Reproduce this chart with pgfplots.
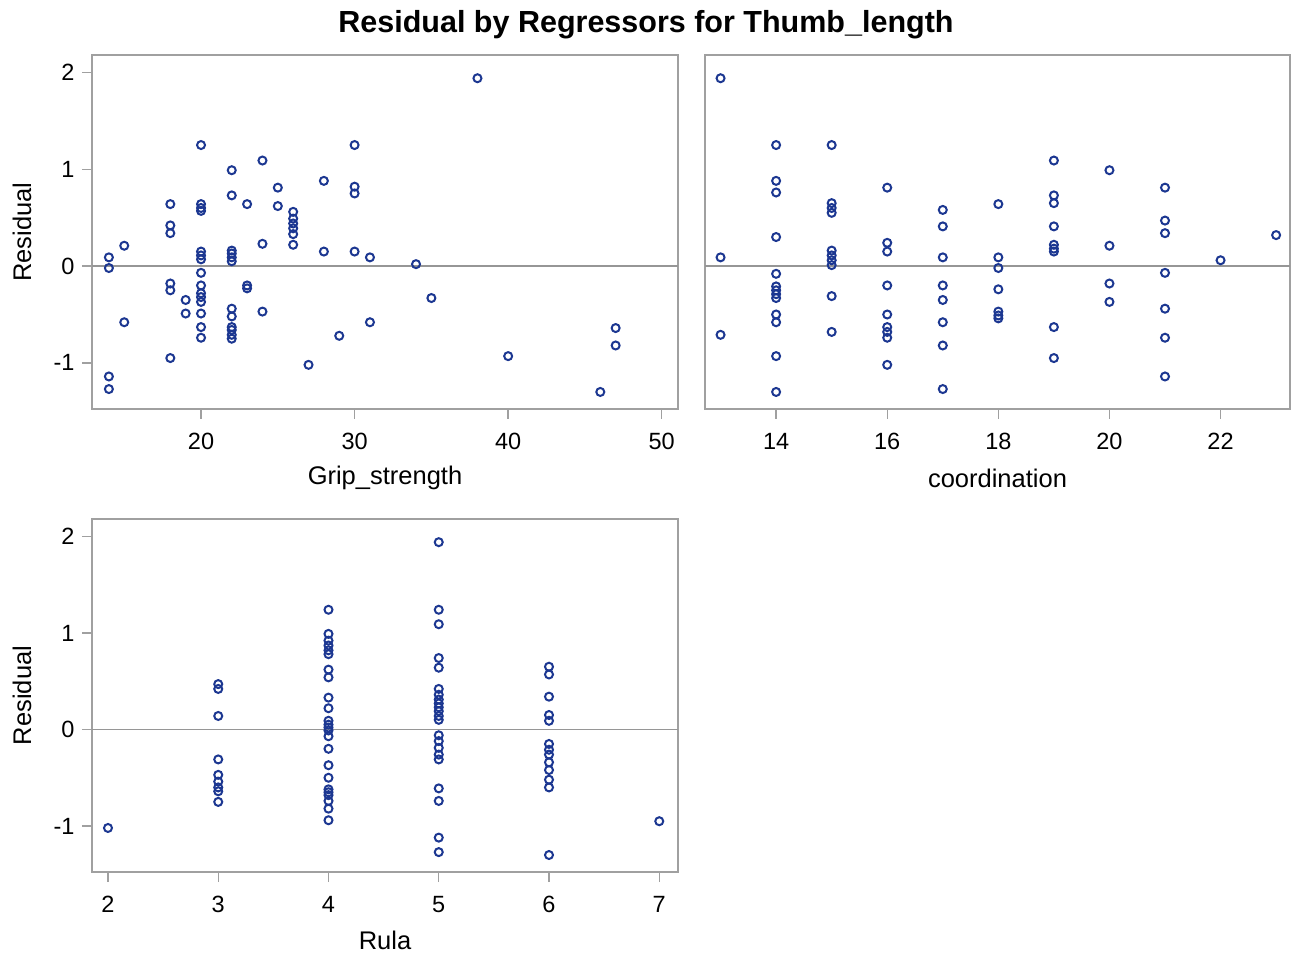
\documentclass[border=0pt]{standalone}
\usepackage{pgfplots}
\pgfplotsset{compat=1.18}
\usepackage{fontspec}
\setmainfont{Liberation Sans}

\definecolor{framegray}{RGB}{160,160,160}
\definecolor{refgray}{RGB}{150,150,150}
\definecolor{markblue}{RGB}{28,55,145}

\pgfplotsset{
  resid/.style={
    scale only axis, anchor=south west,
    axis line style={framegray, line width=1.4pt},
    tick style={framegray, line width=1.4pt},
    tick align=outside, major tick length=10pt,
    xtick pos=lower, ytick pos=lower,
    ymin=-1.476, ymax=2.18, ytick={-1,0,1,2},
    ticklabel style={font=\fontsize{23.5}{25}\selectfont},
    /pgf/number format/assume math mode=true,
    label style={font=\fontsize{25.5}{27}\selectfont},
    yticklabel style={xshift=-4pt},
    xticklabel style={yshift=-11pt},
  },
  pts/.style={only marks, mark=o, mark size=4pt,
    mark options={markblue, line width=2pt}},
}

\begin{document}
\begin{tikzpicture}
\useasboundingbox (0,0) rectangle (1291pt,954pt);

\node[font=\bfseries\fontsize{30.5}{34}\selectfont] at (646pt,929pt)
  {Residual by Regressors for Thumb\_length};

% Grip_strength
\begin{axis}[resid, at={(92pt,545pt)}, width=586pt, height=354pt,
  xmin=12.9, xmax=51.06, xtick={20,30,40,50},
  xlabel={Grip\_strength}, ylabel={Residual},
  xlabel style={at={(axis description cs:0.5,-0.195)}, anchor=center},
  ylabel style={at={(axis description cs:-0.1195,0.5)}, anchor=center}]
\addplot[refgray, line width=1.4pt] coordinates {(12.9,0) (51.06,0)};
\addplot[pts] coordinates {
(20,1.25)(24,1.09)(22,0.99)(25,0.81)(28,0.88)(30,1.25)(30,0.82)(30,0.75)
(18,0.64)(20,0.64)(20,0.60)(20,0.57)(22,0.73)(23,0.64)(25,0.62)
(26,0.56)(26,0.49)(26,0.44)(26,0.39)(26,0.33)(26,0.22)
(18,0.42)(18,0.34)(15,0.21)(14,0.09)(14,-0.02)
(20,0.15)(20,0.11)(20,0.07)(22,0.16)(22,0.13)(22,0.09)(22,0.05)
(24,0.23)(28,0.15)(30,0.15)(31,0.09)(20,-0.07)(18,-0.18)(18,-0.25)
(20,-0.20)(20,-0.28)(20,-0.32)(20,-0.37)(23,-0.20)(23,-0.23)
(19,-0.35)(19,-0.49)(20,-0.49)(20,-0.63)(20,-0.74)
(22,-0.44)(22,-0.52)(22,-0.63)(22,-0.66)(22,-0.71)(22,-0.75)
(24,-0.47)(15,-0.58)(31,-0.58)(29,-0.72)(18,-0.95)(27,-1.02)
(14,-1.14)(14,-1.27)(38,1.94)(34,0.02)(35,-0.33)(47,-0.64)(47,-0.82)
(40,-0.93)(46,-1.30)
};
\end{axis}

% coordination
\begin{axis}[resid, at={(705pt,545pt)}, width=585pt, height=354pt,
  xmin=12.72, xmax=23.25, xtick={14,16,18,20,22}, ytick=\empty,
  xlabel={coordination},
  xlabel style={at={(axis description cs:0.5,-0.195)}, anchor=center}]
\addplot[refgray, line width=1.4pt] coordinates {(12.72,0) (23.25,0)};
\addplot[pts] coordinates {
(13,1.94)(13,0.09)(13,-0.71)
(14,1.25)(14,0.88)(14,0.76)(14,0.30)(14,-0.08)(14,-0.21)(14,-0.25)(14,-0.29)
(14,-0.33)(14,-0.50)(14,-0.58)(14,-0.93)(14,-1.30)
(15,1.25)(15,0.65)(15,0.60)(15,0.55)(15,0.16)(15,0.11)(15,0.06)(15,0.01)
(15,-0.31)(15,-0.68)
(16,0.81)(16,0.24)(16,0.15)(16,-0.20)(16,-0.50)(16,-0.63)(16,-0.68)(16,-0.74)
(16,-1.02)
(17,0.58)(17,0.41)(17,0.09)(17,-0.20)(17,-0.35)(17,-0.58)(17,-0.82)(17,-1.27)
(18,0.64)(18,0.09)(18,-0.02)(18,-0.24)(18,-0.47)(18,-0.51)(18,-0.54)
(19,1.09)(19,0.73)(19,0.65)(19,0.41)(19,0.22)(19,0.18)(19,0.15)(19,-0.63)
(19,-0.95)
(20,0.99)(20,0.21)(20,-0.18)(20,-0.37)
(21,0.81)(21,0.47)(21,0.34)(21,-0.07)(21,-0.44)(21,-0.74)(21,-1.14)
(22,0.06)(23,0.32)
};
\end{axis}

% Rula
\begin{axis}[resid, at={(92pt,82pt)}, width=586pt, height=353pt,
  xmin=1.855, xmax=7.17, xtick={2,3,4,5,6,7},
  xlabel={Rula}, ylabel={Residual},
  xlabel style={at={(axis description cs:0.5,-0.195)}, anchor=center},
  ylabel style={at={(axis description cs:-0.1195,0.5)}, anchor=center}]
\addplot[refgray, line width=1.4pt] coordinates {(1.855,0) (7.17,0)};
\addplot[pts] coordinates {
(2,-1.02)
(3,0.47)(3,0.42)(3,0.14)(3,-0.31)(3,-0.47)(3,-0.54)(3,-0.60)(3,-0.64)(3,-0.75)
(4,1.24)(4,0.99)(4,0.92)(4,0.87)(4,0.82)(4,0.78)(4,0.62)(4,0.54)(4,0.33)
(4,0.22)(4,0.09)(4,0.05)(4,0.02)(4,-0.01)(4,-0.07)(4,-0.20)(4,-0.37)(4,-0.50)
(4,-0.62)(4,-0.65)(4,-0.68)(4,-0.74)(4,-0.82)(4,-0.94)
(5,1.94)(5,1.24)(5,1.09)(5,0.74)(5,0.64)(5,0.42)(5,0.36)(5,0.31)(5,0.27)
(5,0.23)(5,0.19)(5,0.14)(5,0.10)(5,-0.06)(5,-0.12)(5,-0.19)(5,-0.26)(5,-0.31)
(5,-0.61)(5,-0.74)(5,-1.12)(5,-1.27)
(6,0.65)(6,0.57)(6,0.34)(6,0.15)(6,0.09)(6,-0.15)(6,-0.21)(6,-0.26)(6,-0.34)
(6,-0.42)(6,-0.52)(6,-0.60)(6,-1.30)
(7,-0.95)
};
\end{axis}
\end{tikzpicture}
\end{document}
